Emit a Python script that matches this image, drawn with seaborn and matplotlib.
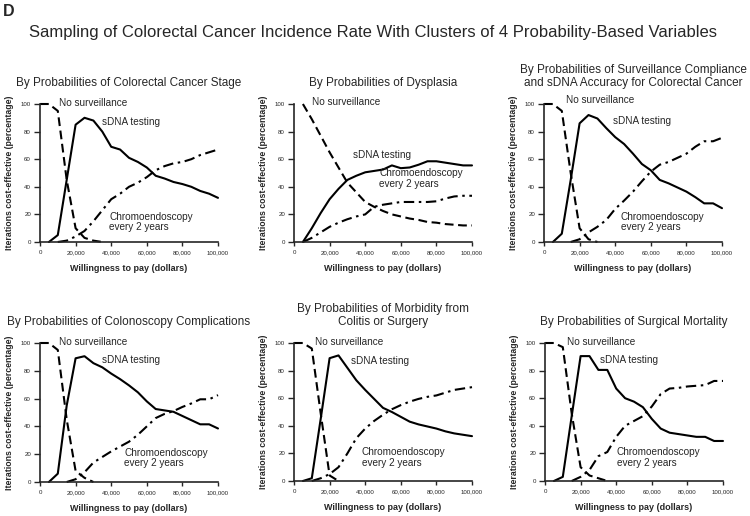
import numpy as np
import pandas as pd
import matplotlib
matplotlib.use("Agg")
import matplotlib.pyplot as plt
import seaborn as sns

sns.set_theme(style="ticks")
plt.rcParams['font.family'] = ['Liberation Sans', 'DejaVu Sans']

nan = np.nan
wtp = [0, 5000, 10000, 15000, 20000, 25000, 30000, 35000, 40000, 45000, 50000,
       55000, 60000, 65000, 70000, 75000, 80000, 85000, 90000, 95000, 100000]

titles = [
    "By Probabilities of Colorectal Cancer Stage",
    "By Probabilities of Dysplasia",
    "By Probabilities of Surveillance Compliance\nand sDNA Accuracy for Colorectal Cancer",
    "By Probabilities of Colonoscopy Complications",
    "By Probabilities of Morbidity from\nColitis or Surgery",
    "By Probabilities of Surgical Mortality",
]

# Panel 1: colorectal cancer stage
nosurv_1 = [100, 100, 95, 45, 10, 3, 1, 0, nan, nan, nan, nan, nan, nan, nan, nan, nan, nan, nan, nan, nan]
sdna_1 = [nan, 0, 5, 45, 85, 90, 88, 80, 69, 67, 61, 58, 54, 48, 46, 43.5, 42, 40, 37, 35, 32]
chromo_1 = [nan, nan, 0, 1, 4, 8, 15, 23, 31, 35, 40, 43, 47, 52, 55, 57, 58, 60, 63, 65, 67]

# Panel 2: dysplasia
nosurv_2 = [nan, 100, 89, 77, 65, 54, 43, 36, 29, 25.5, 22.5, 20, 18.5, 17, 16, 14.5, 14, 13, 12.5, 12, 12]
sdna_2 = [nan, 0, 10, 21, 31, 38.5, 45, 48, 50.5, 51.5, 52.5, 55.5, 53.5, 54, 56, 58.5, 58.5, 57.5, 56.5, 55.5, 55.5]
chromo_2 = [nan, 0, 3, 7, 11, 14, 16.5, 18.5, 20, 25.5, 27, 28, 29, 29, 29, 29, 29.5, 31.5, 33, 33.5, 33.5]

# Panel 3: surveillance compliance and sDNA accuracy
nosurv_3 = [100, 100, 95, 50, 10, 2, 0, nan, nan, nan, nan, nan, nan, nan, nan, nan, nan, nan, nan, nan, nan]
sdna_3 = [nan, 0, 6, 45, 86, 92, 89.5, 82.5, 76, 71, 64, 56.5, 52, 45, 42.5, 39.5, 36.5, 32.5, 28, 28, 24.5]
chromo_3 = [nan, nan, nan, 0, 2, 7, 11, 16, 24, 30, 36.5, 44, 51, 56, 58, 61, 64, 69, 73, 73, 75.5]

# Panel 4: colonoscopy complications
nosurv_4 = [100, 100, 95, 45, 8, 3, 0, nan, nan, nan, nan, nan, nan, nan, nan, nan, nan, nan, nan, nan, nan]
sdna_4 = [nan, 0, 6, 55, 89, 90.5, 85.5, 82.5, 78, 74, 69.5, 64.5, 58, 52.5, 51.5, 50.5, 47.5, 44.5, 41.5, 41.5, 38.5]
chromo_4 = [nan, nan, nan, 0, 2, 7, 14, 18, 22, 25.5, 29, 34, 40, 46, 49, 51, 54, 56.5, 59.5, 59.5, 62.5]

# Panel 5: morbidity from colitis or surgery
nosurv_5 = [100, 100, 96, 49, 4, 0, nan, nan, nan, nan, nan, nan, nan, nan, nan, nan, nan, nan, nan, nan, nan]
sdna_5 = [nan, 0, 2, 45, 89, 91, 82, 73, 66, 59.5, 53, 50, 46.5, 43, 41, 39.5, 38, 36, 34.5, 33.5, 32.5]
chromo_5 = [nan, nan, 0, 2, 5, 10, 20, 31, 38, 43.5, 48, 52, 55, 57.5, 59.5, 61, 62, 64, 66, 67, 68]

# Panel 6: surgical mortality
nosurv_6 = [100, 100, 97, 49, 10, 4, 2, 0, nan, nan, nan, nan, nan, nan, nan, nan, nan, nan, nan, nan, nan]
sdna_6 = [nan, 0, 3, 47, 90.5, 90.5, 80.5, 80.5, 67, 60, 57.5, 53.5, 45, 38, 35, 34, 33, 32, 32, 29, 29]
chromo_6 = [nan, nan, nan, 0, 3, 8, 18, 21, 32, 40, 43.5, 47, 54, 63, 67, 67.5, 68.5, 69, 69.5, 72.5, 72.5]

nosurv_all = [nosurv_1, nosurv_2, nosurv_3, nosurv_4, nosurv_5, nosurv_6]
sdna_all = [sdna_1, sdna_2, sdna_3, sdna_4, sdna_5, sdna_6]
chromo_all = [chromo_1, chromo_2, chromo_3, chromo_4, chromo_5, chromo_6]

# label anchor positions (x in dollars, y in percent)
lab_nosurv = [(10600, 101), (9900, 101.5), (12300, 103), (10600, 101), (12000, 100.7), (12600, 100.7)]
lab_sdna = [(35000, 86.7), (33000, 63), (38500, 88), (34600, 87.5), (31800, 87), (31000, 87.5)]
lab_chromo = [(39000, 14.5), (48000, 46), (43000, 14.5), (47300, 17.3), (38000, 17), (40300, 17)]

W, H = 750, 516
fig = plt.figure(figsize=(7.5, 5.16), dpi=100)
fig.patch.set_facecolor("white")

# axes boxes in pixels: left, right, top, bottom
boxes = [(40, 218, 104, 242), (294, 472, 104, 242), (544, 722, 104, 242),
         (40, 218, 343, 482), (294, 472, 343, 481), (545, 723, 343, 481)]

styles = {"nosurv": (0, (4.2, 2.2)), "sdna": "-", "chromo": (0, (5.0, 2.2, 1.2, 2.2))}

for i, (l, r, t, b) in enumerate(boxes):
    ax = fig.add_axes([l / W, 1 - b / H, (r - l) / W, (b - t) / H])
    ax.set_facecolor("white")
    series = [("nosurv", nosurv_all[i]), ("sdna", sdna_all[i]), ("chromo", chromo_all[i])]
    for key, vals in series:
        df = pd.DataFrame({"wtp": wtp, "pct": vals})
        sns.lineplot(data=df, x="wtp", y="pct", ax=ax, color="black", lw=1.5,
                     linestyle=styles[key], estimator=None, errorbar=None,
                     clip_on=False)
    ax.set_xlim(0, 100000)
    ax.set_ylim(0, 100)
    ax.set_xticks([0, 20000, 40000, 60000, 80000, 100000])
    ax.set_xticklabels(["0", "20,000", "40,000", "60,000", "80,000", "100,000"])
    ax.set_yticks([0, 20, 40, 60, 80, 100])
    ax.tick_params(axis="x", labelsize=4.4, length=3, width=1.0, pad=3, direction="out")
    ax.tick_params(axis="y", labelsize=4.4, length=4.5, width=1.0, pad=2, direction="out")
    for s in ["top", "right"]:
        ax.spines[s].set_visible(False)
    for s in ["left", "bottom"]:
        ax.spines[s].set_linewidth(1.2)
    ax.set_xlabel("Willingness to pay (dollars)", fontsize=6.5, fontweight="bold", labelpad=6)
    ax.set_ylabel("Iterations cost-effective (percentage)", fontsize=6.3, fontweight="bold", labelpad=5)
    ax.set_title(titles[i], fontsize=8.5, pad=13, linespacing=1.1)
    ax.text(*lab_nosurv[i], "No surveillance", fontsize=7.2, ha="left", va="center")
    ax.text(*lab_sdna[i], "sDNA testing", fontsize=7.2, ha="left", va="center")
    ax.text(*lab_chromo[i], "Chromoendoscopy\nevery 2 years", fontsize=7.2, ha="left",
            va="center", linespacing=1.1)

fig.text(373 / W, 1 - 33 / H, "Sampling of Colorectal Cancer Incidence Rate With Clusters of 4 Probability-Based Variables",
         fontsize=12, ha="center", va="center")
fig.text(3 / W, 1 - 11.5 / H, "D", fontsize=11.5, fontweight="bold", ha="left", va="center")

fig.savefig("out.png", dpi=100, facecolor="white")
